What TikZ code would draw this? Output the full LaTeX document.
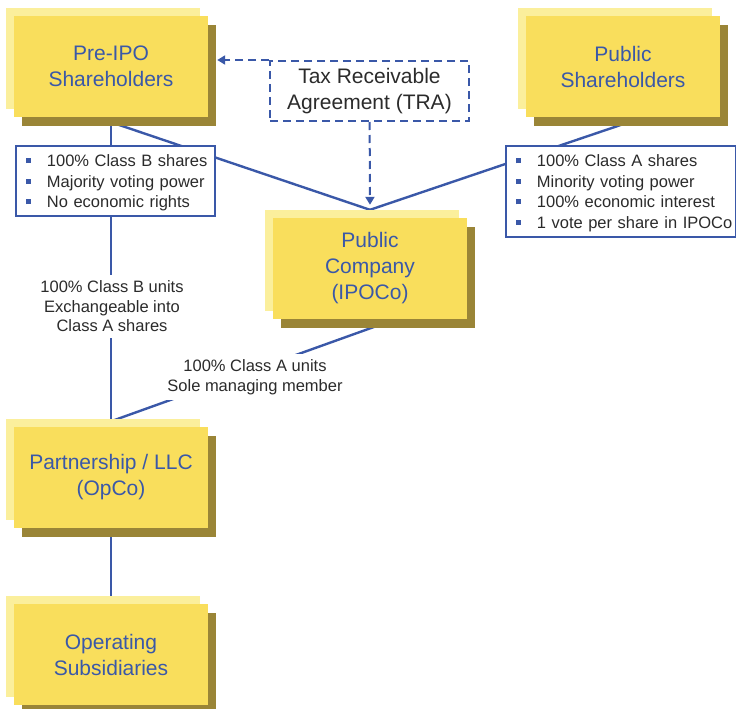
\documentclass[tikz,border=0pt]{standalone}
\usepackage{fontspec}
\setmainfont{Liberation Sans}
\usetikzlibrary{arrows.meta,shadows,backgrounds,calc}

\definecolor{boxyellow}{HTML}{F9DE5C}
\definecolor{boxback}{HTML}{FBEF9C}
\definecolor{boxshade}{HTML}{9A8537}
\definecolor{linkblue}{HTML}{3A58A8}
\definecolor{labelgray}{HTML}{2B2B2B}

% one line of a fact list, with a small square bullet
\newcommand{\fact}[1]{\mbox{\hspace*{3pt}\textcolor{linkblue}{\rule[3.5pt]{5pt}{5pt}}\hspace{16pt}#1}}

\begin{document}
\begin{tikzpicture}[x=1pt, y=-1pt, >={Triangle[length=8pt,width=9pt]},
    entity/.style={fill=boxyellow, text=linkblue, align=center, inner sep=0pt,
        minimum width=194pt, minimum height=101pt, font=\fontsize{21}{26}\selectfont,
        general shadow={fill=boxback, shadow xshift=-8pt, shadow yshift=8pt},
        general shadow={fill=boxshade, shadow xshift=8pt, shadow yshift=-9pt}},
    facts/.style={draw=linkblue, line width=1.9pt, fill=white, text=labelgray, align=left,
        inner xsep=7pt, inner ysep=0pt, anchor=north west, font=\fontsize{16.5}{20.5}\selectfont},
    note/.style={fill=white, text=labelgray, align=center, inner xsep=4pt, inner ysep=6pt,
        font=\fontsize{16.5}{19.5}\selectfont},
    link/.style={draw=linkblue, line width=2.4pt},
    tra/.style={draw=linkblue, line width=2pt, dash pattern=on 8pt off 5pt}]
    \useasboundingbox (0,0) rectangle (736,709);

    % entities
    \node[entity] (pre) at (111,66.5) {Pre-IPO\\Shareholders};
    \node[entity] (pub) at (623,66.5) {Public\\Shareholders};
    \node[entity] (ipo) at (370,268.5) {Public\\Company\\(IPOCo)};
    \node[entity] (opco) at (111,477.5) {Partnership / LLC\\(OpCo)};
    \node[entity] (ops) at (111,654.5) {Operating\\Subsidiaries};

    \node[tra, text=labelgray, align=center, minimum width=199pt, minimum height=60pt,
        font=\fontsize{21}{26}\selectfont] (tra) at (369.5,91) {Tax Receivable\\Agreement (TRA)};

    % holdings
    \node[facts, text width=185pt, minimum height=70pt] (preinfo) at (15,145)
        {\rule{0pt}{16pt}\fact{100\% Class B shares}\\\fact{Majority voting power}\\\fact{No economic rights}};
    \node[facts, text width=216pt, minimum height=91pt] (pubinfo) at (505,145)
        {\rule{0pt}{16pt}\fact{100\% Class A shares}\\\fact{Minority voting power}\\\fact{100\% economic interest}\\\fact{1 vote per share in IPOCo}};

    \node[note] (clsb) at (112,306.5) {100\% Class B units\\Exchangeable into\\Class A shares};
    \node[note] (clsa) at (255,377) {100\% Class A units\\Sole managing member};

    \coordinate (meet) at ($(ipo.north)+(0,-8)$);
    \coordinate (preedge) at ($(pre.east)+(9,0)$);

    % ownership lines sit behind the boxes
    \begin{scope}[on background layer]
        \draw[link] (pre.south) -- (opco.north);
        \draw[link] (opco.south) -- (ops.north);
        \draw[link] ($(pre.south)+(0,5)$) -- (meet);
        \draw[link] ($(pub.south)+(0,7)$) -- (meet);
        \draw[link] ($(ipo.south)+(20,2)$) -- ($(opco.north)+(0,-5.5)$);
    \end{scope}

    \draw[tra, ->] (tra.north west) -- (tra.north west -| preedge);
    \draw[tra, ->, shorten >=5pt] (tra) -- (meet);
\end{tikzpicture}
\end{document}
